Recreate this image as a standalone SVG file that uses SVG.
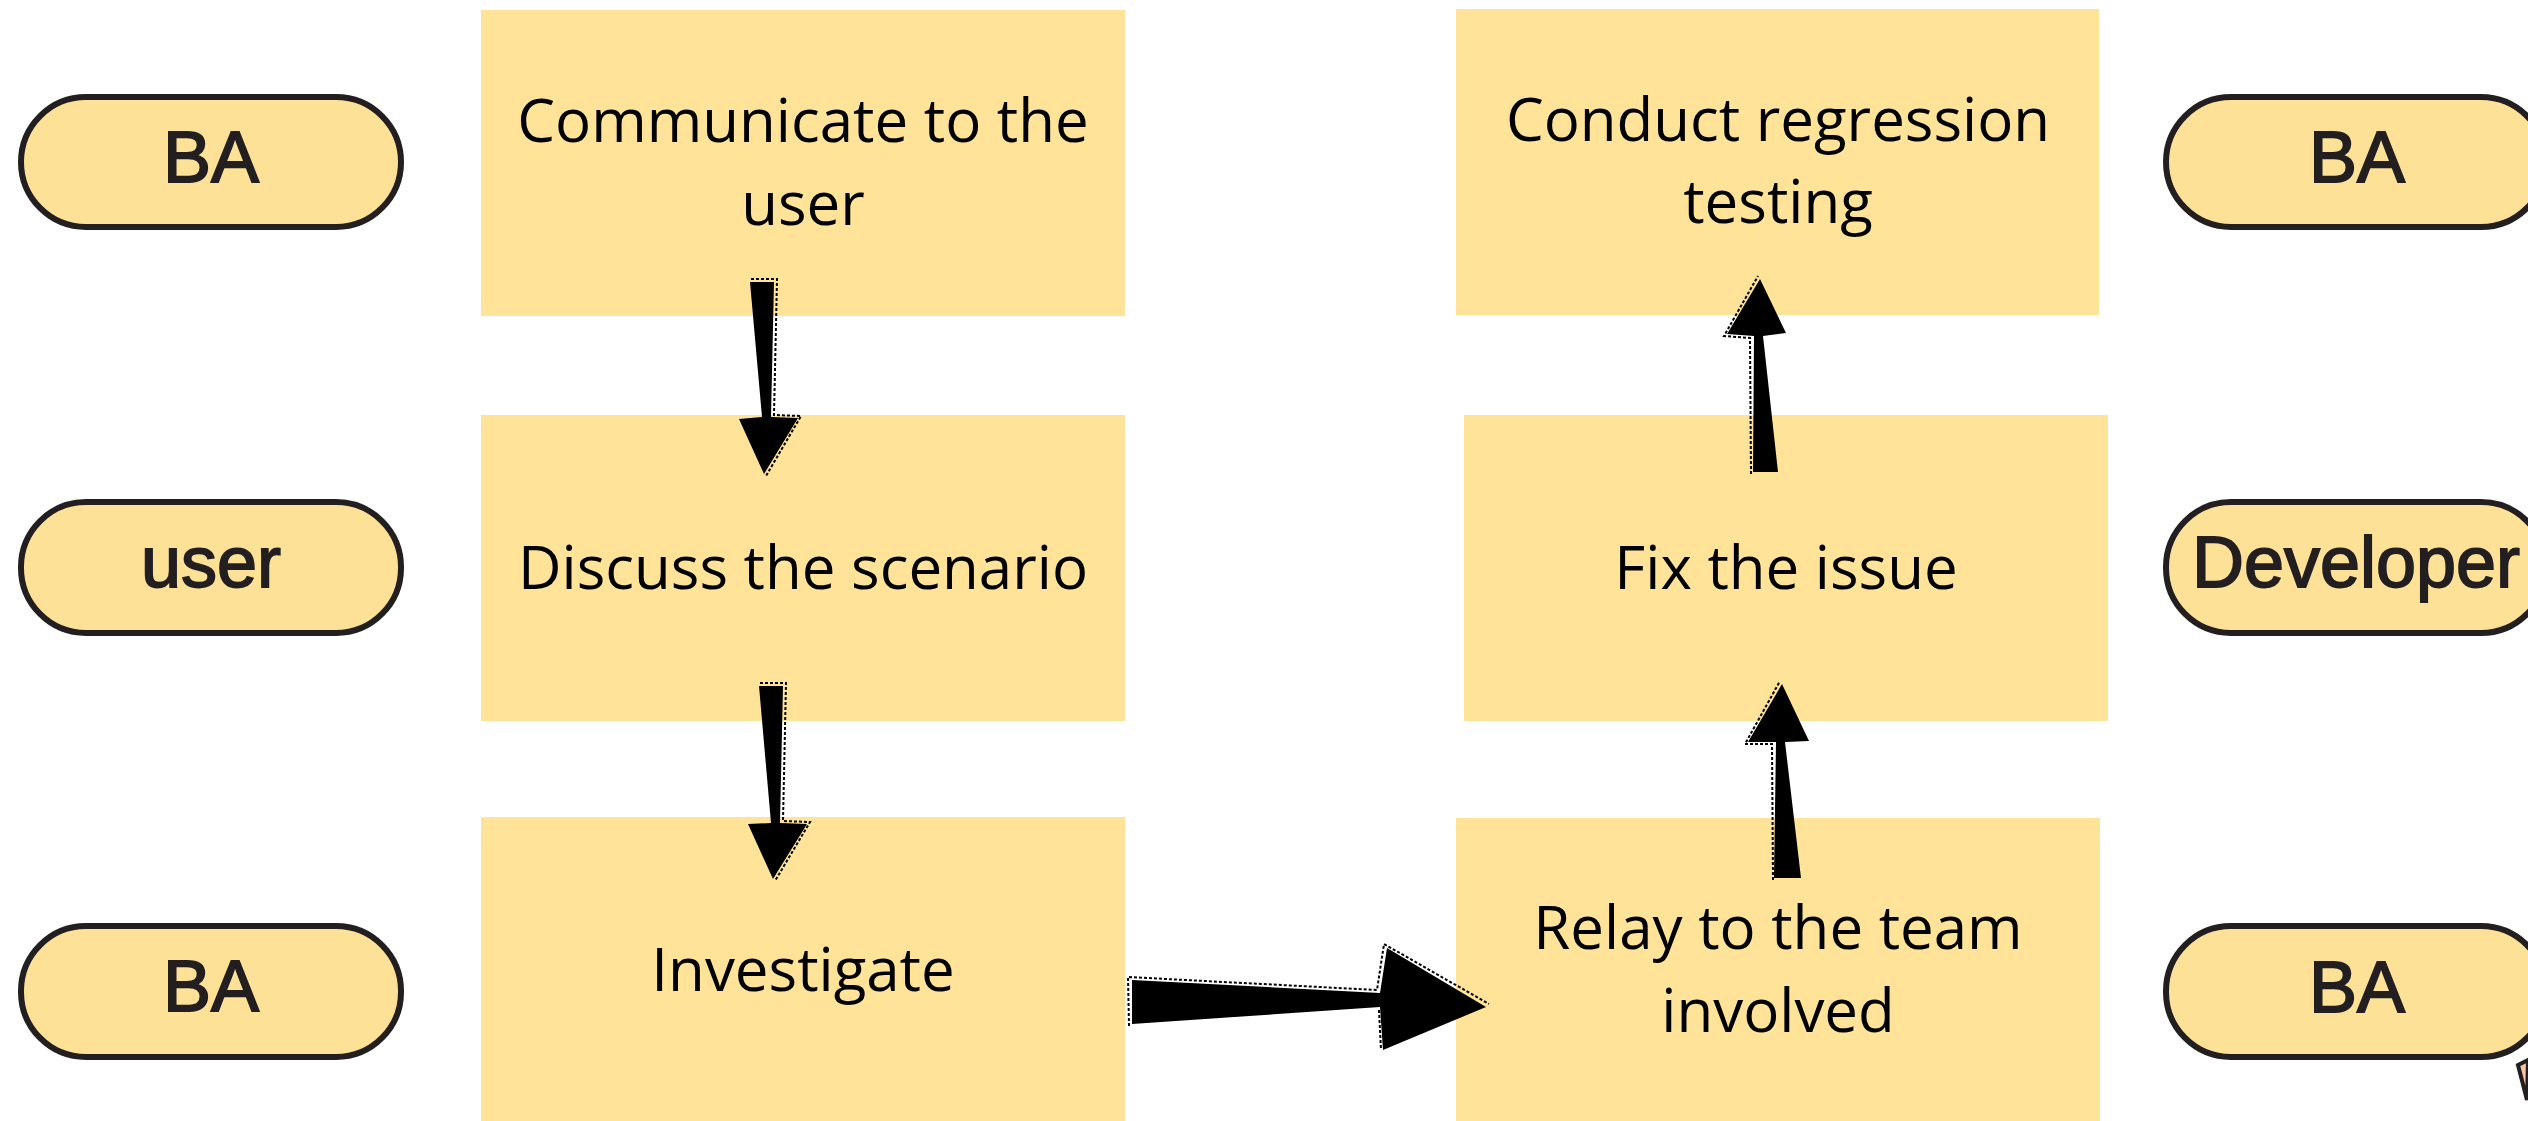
<svg xmlns="http://www.w3.org/2000/svg" width="2528" height="1121" viewBox="0 0 2528 1121">
<style>
.box{fill:#FFE399}
.pill{fill:#FDE196;stroke:#231F20;stroke-width:6}
.bt{font-family:"Open Sans","Liberation Sans",sans-serif;font-size:60px;fill:#000;text-anchor:middle}
.pt{font-family:"Liberation Sans",Arial,sans-serif;font-size:72px;fill:#231F20;stroke:#231F20;stroke-width:1.8;text-anchor:middle}
.arrow{fill:#000}
.dash{fill:none;stroke:#000;stroke-width:2;stroke-dasharray:3 2}
</style>
<rect width="2528" height="1121" fill="#fff"/>

<g id="pill-ba-1"><rect class="pill" x="21" y="97" width="380" height="130" rx="65"/><text class="pt" x="211" y="182">BA</text></g>
<g id="pill-user"><rect class="pill" x="21" y="502" width="380" height="131" rx="65"/><text class="pt" x="211" y="587">user</text></g>
<g id="pill-ba-2"><rect class="pill" x="21" y="926" width="380" height="131" rx="65"/><text class="pt" x="211" y="1011">BA</text></g>

<g id="box-communicate"><rect class="box" x="481" y="10" width="644" height="306"/><text class="bt" x="803" y="142">Communicate to the</text><text class="bt" x="803" y="225">user</text></g>
<g id="box-discuss"><rect class="box" x="481" y="415" width="644" height="306"/><text class="bt" x="803" y="589">Discuss the scenario</text></g>
<g id="box-investigate"><rect class="box" x="481" y="817" width="644" height="310"/><text class="bt" x="803" y="991">Investigate</text></g>

<g id="box-conduct"><rect class="box" x="1456" y="9" width="643" height="306"/><text class="bt" x="1778" y="141">Conduct regression</text><text class="bt" x="1778" y="223">testing</text></g>
<g id="box-fix"><rect class="box" x="1464" y="415" width="644" height="306"/><text class="bt" x="1786" y="589">Fix the issue</text></g>
<g id="box-relay"><rect class="box" x="1456" y="818" width="644" height="310"/><text class="bt" x="1778" y="949">Relay to the team</text><text class="bt" x="1778" y="1032">involved</text></g>

<g id="pill-ba-3"><rect class="pill" x="2166" y="97" width="380" height="130" rx="65"/><text class="pt" x="2357" y="182">BA</text></g>
<g id="pill-developer"><rect class="pill" x="2166" y="502" width="380" height="131" rx="65"/><text class="pt" x="2356" y="587">Developer</text></g>
<g id="pill-ba-4"><rect class="pill" x="2166" y="926" width="380" height="131" rx="65"/><text class="pt" x="2357" y="1012">BA</text></g>

<g id="corner-fragment"><path d="M2528,1060 L2518,1065 L2527,1100 Z" fill="#F5C6A5" stroke="#231F20" stroke-width="4"/></g>

<g id="connectors">
<polygon class="arrow" points="750,282 774,282 771,417 798,418 764,474 739,419 762,417"/>
<polyline class="dash" points="751,279 777,279 774,415 801,416 766,476"/>
<polygon class="arrow" points="759,686 783,686 780,823 807,824 773,879 748,824 771,823"/>
<polyline class="dash" points="760,683 786,683 783,821 810,822 775,881"/>
<polygon class="arrow" points="1132,980 1380,993 1387,948 1486,1007 1383,1050 1380,1007 1132,1024"/>
<polyline class="dash" points="1129,1026 1128,977 1377,990 1384,944 1489,1004"/>
<polyline class="dash" points="1379,1010 1381,1050"/>
<polygon class="arrow" points="1782,684 1809,741 1785,742 1801,878 1774,878 1776,742 1748,742"/>
<polyline class="dash" points="1773,880 1772,744 1745,744 1780,681"/>
<polygon class="arrow" points="1760,279 1786,333 1763,336 1778,472 1753,472 1754,336 1727,334"/>
<polyline class="dash" points="1751,474 1750,338 1724,336 1758,276"/>
</g>
</svg>
